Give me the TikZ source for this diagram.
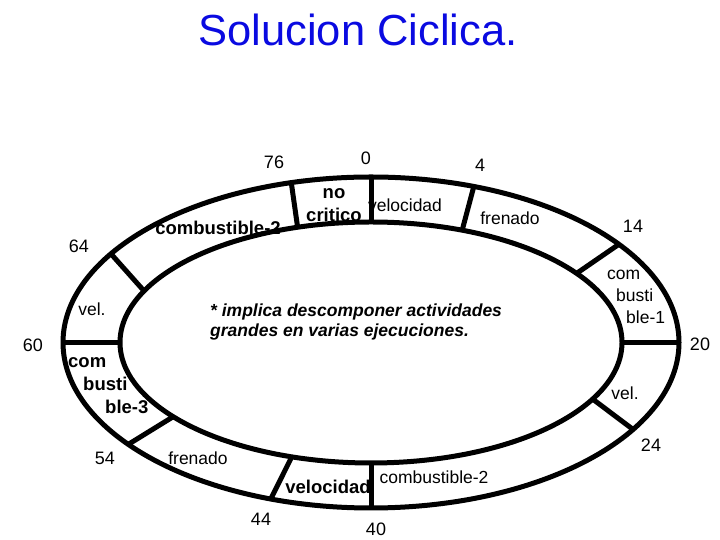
\documentclass[tikz,border=0pt]{standalone}
\usepackage{fontspec}
\setmainfont{Liberation Sans}
\usetikzlibrary{calc}
\definecolor{titleblue}{RGB}{10,10,225}
\tikzset{
  ring/.style={line width=5pt},
  num/.style={font=\fontsize{18}{20}\selectfont, inner sep=0pt},
  seg/.style={font=\fontsize{17.5}{22}\selectfont, align=center, inner sep=0pt},
  segb/.style={font=\bfseries\fontsize{18.5}{23}\selectfont, align=center, inner sep=0pt},
}
\begin{document}
\begin{tikzpicture}[x=1pt, y=1pt]
    \useasboundingbox (0,0) rectangle (720,540);
    \node[font=\fontsize{43.5}{50}\selectfont, text=titleblue] (title) at (358,510) {Solucion Ciclica.};
    %   Define the two rings of the cycle
    \coordinate (c) at (371,197.5);
    \draw[ring] (c) ellipse [x radius=308, y radius=165.5];
    \draw[ring] (c) ellipse [x radius=251, y radius=120.5];
    %   Dividers between the activities
    \foreach \o/\i/\n in {90/90/0, 105/107/76, 70.5/68.7/4, 36.4/35/14, 0/0/20,
        -31.7/-28/24, -90/-90/40, -109/-108.4/44, -142/-142/54, 180/180/60, 147.6/154.7/64} {
        \coordinate (out-\n) at ($(c)+(\o:308 and 165.5)$);
        \coordinate (in-\n) at ($(c)+(\i:251 and 120.5)$);
        \draw[ring] (out-\n) -- (in-\n);
    }
    %   Times
    \node[num] (t0) at (366,382) {0};
    \node[num] (t4) at (480,375) {4};
    \node[num] (t14) at (633,314) {14};
    \node[num] (t20) at (700,196) {20};
    \node[num] (t24) at (651,95) {24};
    \node[num] (t40) at (376,11) {40};
    \node[num] (t44) at (261,21) {44};
    \node[num] (t54) at (105,82) {54};
    \node[num] (t60) at (33,195) {60};
    \node[num] (t64) at (79,294) {64};
    \node[num] (t76) at (274,378) {76};
    %   Activities
    \node[segb] (nocrit) at (334,335) {no\\critico};
    \node[seg] (vel1) at (405,335) {velocidad};
    \node[seg] (fren1) at (510,322) {frenado};
    \node[seg, align=left, anchor=north west] (comb1) at (607,270) {com\\\hspace{9pt}busti\\\hspace{19pt}ble-1};
    \node[seg] (vel2) at (625,147) {vel.};
    \node[seg] (comb2) at (434,63) {combustible-2};
    \node[segb] (vel3) at (328,53) {velocidad};
    \node[seg] (fren2) at (198,82) {frenado};
    \node[segb, align=left, anchor=north west] (comb3) at (68,183) {com\\\hspace{15pt}busti\\\hspace{37pt}ble-3};
    \node[seg] (vel4) at (92,231) {vel.};
    \node[segb] (comb4) at (218,312) {combustible-2};
    %   Note in the middle
    \node[font=\bfseries\itshape\fontsize{17.5}{20}\selectfont, align=left, anchor=west, inner sep=0pt] (note) at (210,218)
        {* implica descomponer actividades\\grandes en varias ejecuciones.};
\end{tikzpicture}
\end{document}
